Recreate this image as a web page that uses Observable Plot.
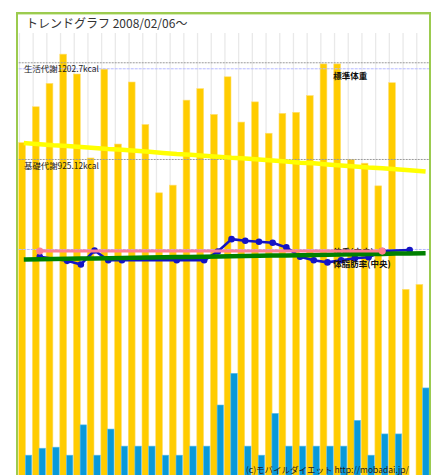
<!DOCTYPE html>
<html><head><meta charset="utf-8">
<script src="https://cdn.jsdelivr.net/npm/d3@7"></script>
<script src="https://cdn.jsdelivr.net/npm/@observablehq/plot@0.6"></script>
<style>
html,body{margin:0;padding:0;overflow:hidden;background:#fff;width:437px;height:475px}
#chart{position:absolute;left:0;top:0}
#frame{position:absolute;left:16px;top:12px;width:411px;height:490px;border:2px solid #9ccb4f;box-shadow:inset 0 1px 0 #d6ecb4;pointer-events:none}
#title{position:absolute;left:26px;top:15px;font-family:"Noto Sans CJK JP",sans-serif;font-size:12px;line-height:16px;color:#333;white-space:nowrap}
#caption{position:absolute;left:246px;top:463px;font-family:"Noto Sans CJK JP",sans-serif;font-size:8.5px;line-height:12px;color:#222;white-space:nowrap}
</style></head>
<body>
<div id="chart"></div>
<div id="frame"></div>
<div id="title">トレンドグラフ 2008/02/06〜</div>
<div id="caption">(c)モバイルダイエット http://mobadai.jp/</div>
<script>
// 30 days from 2008/02/06
const dates = ["02/06","02/07","02/08","02/09","02/10","02/11","02/12","02/13","02/14","02/15",
  "02/16","02/17","02/18","02/19","02/20","02/21","02/22","02/23","02/24","02/25",
  "02/26","02/27","02/28","02/29","03/01","03/02","03/03","03/04","03/05","03/06"];
// intake (kcal, yellow bars)
const intake = [972,1075,1142,1226,1169,928,1183,968,1146,1024,828,850,1094,1127,1053,1161,1031,1089,999,1056,1059,1107,1198,1198,924,913,848,1144,551,565];
// exercise (kcal, blue bars)
const exercise = [75,95,98,75,162,75,150,101,101,101,75,75,101,101,219,310,101,75,195,101,101,101,101,101,175,75,136,136,null,268];
// intake trend (kcal, yellow line)
const intakeTrend = [972,969,966,964,961,958,955,953,950,947,944,941,939,936,933,930,928,925,922,919,916,914,911,908,905,902,900,897,894,891];
// weight (kg, blue line)
const weight = [null,59.86,null,59.78,59.71,59.98,59.79,59.79,null,null,null,59.79,null,59.79,59.96,60.20,60.17,60.15,60.13,60.04,59.86,59.79,59.75,59.79,59.83,59.85,59.97,null,59.99,null];
// weight median (kg, pink)
const medianDays = ["02/07","03/03"];
const medianWeight = [59.97,59.97];
// body fat median trend (%, green)
const fatTrend = [22.00,22.02,22.04,22.07,22.09,22.11,22.13,22.15,22.17,22.20,22.22,22.24,22.26,22.28,22.30,22.33,22.35,22.37,22.39,22.41,22.43,22.46,22.48,22.50,22.52,22.54,22.56,22.59,22.61,22.63];
// reference lines
const kcalRefNames = ["生活代謝","基礎代謝"];
const kcalRefValues = [1202.7, 925.12];
const weightRefNames = ["標準体重","目標体重"];
const weightRefValues = [63.5, 60.0];

const yMax = 1286.7;
// secondary measures mapped onto the kcal axis
const wScale = d3.scaleLinear([60, 63.5], [666.8, 1185.4]);
const fScale = d3.scaleLinear([22, 23], [638.1, 666.8]);

const days = dates.map((d, i) => ({date: d, intake: intake[i], exercise: exercise[i], trend: intakeTrend[i], weight: weight[i], fat: fatTrend[i]}));
const kcalRefs = kcalRefNames.map((n, i) => ({name: n, value: kcalRefValues[i]}));
const weightRefs = weightRefNames.map((n, i) => ({name: n, value: weightRefValues[i]}));
const median = medianDays.map((d, i) => ({date: d, w: medianWeight[i]}));
const weighed = days.filter(d => d.weight != null);

const F = "'Noto Sans CJK JP', sans-serif";
const plot = Plot.plot({
  width: 437, height: 490,
  marginLeft: 18.7, marginRight: 7.3, marginTop: 33, marginBottom: 8.7,
  x: {type: "band", domain: dates, padding: 0, round: false, axis: null},
  y: {domain: [0, yMax], axis: null},
  style: {background: "transparent", overflow: "visible"},
  marks: [
    Plot.ruleX(dates, {x: d => d, y1: 0, y2: yMax, stroke: "#e9e9e9", strokeWidth: 1.3, dx: -6.6}),
    Plot.barY(days, {x: "date", y: "intake", fill: "#ffcc00", stroke: "#ffdf70", strokeWidth: 0.6, insetRight: 6.9}),
    Plot.barY(days.filter(d => d.exercise != null), {x: "date", y: "exercise", fill: "#0899da", stroke: "#66c0ea", strokeWidth: 0.6, insetLeft: 6.6, insetRight: 0.6}),
    Plot.ruleY(kcalRefs, {y: "value", stroke: "#9a9a9a", strokeDasharray: "2,1"}),
    Plot.ruleY(weightRefs, {y: d => wScale(d.value), stroke: "#b4b8ff", strokeDasharray: "3,1"}),
    Plot.text(kcalRefs, {x: () => dates[0], y: "value", text: d => d.name + d.value + "kcal", textAnchor: "start", dx: -2, dy: 6.8, fontSize: 8.4, fontFamily: F, fill: "#1a1a1a"}),
    Plot.text([weightRefs[0]], {x: () => dates[23], y: d => wScale(d.value), text: "name", textAnchor: "start", dx: -7.8, dy: 7, fontSize: 8.5, fontFamily: F, fill: "#111", fontWeight: "bold"}),
    Plot.lineY(days, {x: "date", y: "trend", stroke: "#ffff00", strokeWidth: 4.5, strokeLinecap: "square"}),
    Plot.text([median[0]], {x: () => dates[23], y: d => wScale(d.w), text: () => "体重(中央)", textAnchor: "start", dx: -7.8, dy: 1, fontSize: 8.5, fontFamily: F, fill: "#111", fontWeight: "bold"}),
    Plot.line(weighed, {x: "date", y: d => wScale(d.weight), stroke: "#1414c4", strokeWidth: 2.6}),
    Plot.dot(weighed, {x: "date", y: d => wScale(d.weight), r: 3.3, fill: "#1414c4"}),
    Plot.lineY(days, {x: "date", y: d => fScale(d.fat), stroke: "#008000", strokeWidth: 4.5, strokeLinecap: "square"}),
    Plot.line(median, {x: "date", y: d => wScale(d.w), stroke: "#ff8090", strokeWidth: 3}),
    Plot.dot(median, {x: "date", y: d => wScale(d.w), r: 3.6, fill: "#ff8090"}),
    Plot.text([days[23]], {x: "date", y: d => fScale(d.fat), text: () => "体脂肪率(中央)", textAnchor: "start", dx: -7.8, dy: 9.5, fontSize: 8.5, fontFamily: F, fill: "#111", fontWeight: "bold"})
  ]
});
document.getElementById("chart").appendChild(plot);
</script>
</body></html>
